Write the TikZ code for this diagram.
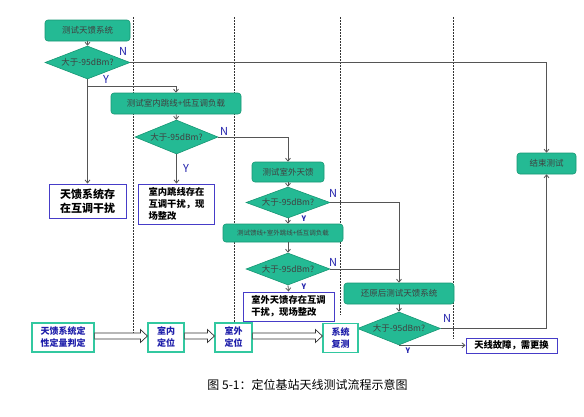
\documentclass[tikz,border=0pt]{standalone}
\usepackage{fontspec}
\setmainfont{Noto Sans CJK SC}
\usetikzlibrary{shapes.geometric,arrows.meta,calc}
\definecolor{tealf}{RGB}{36,186,148}
\definecolor{tealb}{RGB}{22,150,115}
\definecolor{bluebox}{RGB}{70,60,200}
\definecolor{bluetxt}{RGB}{30,30,170}
\definecolor{lin}{RGB}{85,85,85}
\definecolor{btm}{RGB}{50,200,160}
\tikzset{
  proc/.style={draw=tealb, fill=tealf, rounded corners=3pt, line width=0.6pt, inner sep=0pt, text=black!75, font=\fontsize{8.5}{10}\selectfont},
  dec/.style={diamond, draw=tealb, fill=tealf, line width=0.6pt, inner sep=0pt, aspect=2.5, text=black!75, font=\fontsize{8.5}{10}\selectfont},
  res/.style={draw=bluebox, fill=white, line width=1pt, inner sep=0pt, align=left, font=\bfseries},
  btmbox/.style={draw=btm, fill=white, line width=1.2pt, inner sep=0pt, align=left, text=bluetxt, font=\bfseries\fontsize{9}{12}\selectfont},
  arr/.style={draw=lin, line width=0.8pt, -{Straight Barb[length=3pt,width=5pt]}},
  ln/.style={draw=lin, line width=0.8pt},
  lane/.style={draw=black!80, line width=0.6pt, dash pattern=on 1.8pt off 1.2pt},
  lbl/.style={text=bluetxt, inner sep=0pt, font=\fontsize{11}{11}\selectfont},
  lbls/.style={text=bluetxt, inner sep=0pt, font=\bfseries\fontsize{7.5}{8}\selectfont},
  hollow/.style={draw=black!80, fill=white, line width=0.7pt, line join=miter}
}
\newcommand{\hollowarrow}[2]{%
  \draw[hollow] ($(#1.east |- 0,336)+(0,-3)$) -- ($(#2.west |- 0,336)+(-7,-3)$) -- ++(0,-3.5)
    -- (#2.west |- 0,336) -- ($(#2.west |- 0,336)+(-7,6.5)$) -- ++(0,-3.5)
    -- ($(#1.east |- 0,336)+(0,3)$) -- cycle;}
\begin{document}
\begin{tikzpicture}[x=1pt,y=-1pt]
\useasboundingbox (0,0) rectangle (584,416);
% lanes
\draw[lane] (133,17) -- (133,338);
\draw[lane] (234,17) -- (234,322);
\draw[lane] (340.5,17) -- (340.5,315);
\draw[lane] (453,17) -- (453,339);
% nodes
\node[proc, minimum width=85pt, minimum height=21pt] (t1) at (87.5,30.5) {测试天馈系统};
\node[dec, minimum width=85pt, minimum height=33pt] (d1) at (87.5,62.5) {大于-95dBm?};
\node[res, minimum width=77pt, minimum height=34pt, font=\bfseries\fontsize{11}{13.5}\selectfont] (r1) at (87.5,201) {天馈系统存\\在互调干扰};
\node[proc, minimum width=130pt, minimum height=21pt] (t2) at (176,103.5) {测试室内跳线+低互调负载};
\node[dec, minimum width=83pt, minimum height=34pt] (d2) at (176.5,137) {大于-95dBm?};
\node[res, minimum width=76pt, minimum height=40pt, font=\bfseries\fontsize{9.3}{12}\selectfont] (r2) at (176.5,204) {室内跳线存在\\互调干扰，现\\场整改};
\node[proc, minimum width=72pt, minimum height=20pt] (t3) at (288,172) {测试室外天馈};
\node[dec, minimum width=84pt, minimum height=31pt] (d3) at (288,202.5) {大于-95dBm?};
\node[proc, minimum width=120pt, minimum height=18pt, font=\fontsize{6.5}{8}\selectfont] (t4) at (283,233) {测试馈线+室外跳线+低互调负载};
\node[dec, minimum width=84pt, minimum height=32pt] (d4) at (288,269) {大于-95dBm?};
\node[res, minimum width=91pt, minimum height=29pt, font=\bfseries\fontsize{9.3}{12}\selectfont] (r3) at (288.5,306.5) {室外天馈存在互调\\干扰，现场整改};
\node[proc, minimum width=110pt, minimum height=21pt] (t5) at (399,293.5) {还原后测试天馈系统};
\node[dec, minimum width=83pt, minimum height=33pt] (d5) at (399,328.5) {大于-95dBm?};
\node[res, minimum width=91pt, minimum height=15pt, font=\bfseries\fontsize{9.3}{11}\selectfont] (r4) at (511.5,345.5) {天线故障，需更换};
\node[proc, minimum width=59pt, minimum height=21pt] (t6) at (546.5,163.5) {结束测试};
% bottom row
\node[btmbox, minimum width=62pt, minimum height=29pt] (b1) at (63,337.5) {天馈系统定\\性定量判定};
\node[btmbox, minimum width=36pt, minimum height=29pt] (b2) at (166,337.5) {室内\\定位};
\node[btmbox, minimum width=37pt, minimum height=29pt] (b3) at (233.5,337.5) {室外\\定位};
\node[btmbox, minimum width=35pt, minimum height=29pt] (b4) at (340.5,338) {系统\\复测};
\hollowarrow{b1}{b2}
\hollowarrow{b2}{b3}
\hollowarrow{b3}{b4}
% connectors
\coordinate (y1) at (87.5,86);
\draw[arr] (t1) -- (d1);
\draw[arr] (d1.east) -| (t6.north);
\draw[arr] (d1.south) -- (r1.north);
\draw[arr] (y1) -| (t2.north);
\draw[arr] (t2) -- (d2);
\draw[arr] (d2.east) -| (t3.north);
\draw[arr] (d2.south) -- (r2.north);
\draw[arr] (t3) -- (d3);
\draw[arr] (d3.east) -| (t5.north);
\draw[arr] (d3.south) -- (d3.south |- t4.north);
\draw[arr] (d4.north |- t4.south) -- (d4.north);
\draw[arr] (d4.south) -- (r3.north);
\draw[ln] (d4.east) -- (d4.east -| t5.north);
\draw[arr] (t5) -- (d5);
\draw[arr] (d5.east) -| (t6.south);
\draw[arr] (d5.south) -- (d5.south -| r4.west);
% labels
\node[lbl] (n1) at (123,51) {N};
\node[lbl] (y1l) at (106,79) {Y};
\node[lbl] (n2) at (224,131) {N};
\node[lbl] (y2l) at (186,168) {Y};
\node[lbl] (n3) at (333,193) {N};
\node[lbls] (y3l) at (304,219) {Y};
\node[lbl] (n4) at (333,262) {N};
\node[lbls] (y4l) at (304,287) {Y};
\node[lbl] (n5) at (447,318) {N};
\node[lbls] (y5l) at (408,351) {Y};
% caption
\node[font=\fontsize{12}{14}\selectfont] (cap) at (307.5,384.5) {图 5-1：定位基站天线测试流程示意图};
\end{tikzpicture}
\end{document}
